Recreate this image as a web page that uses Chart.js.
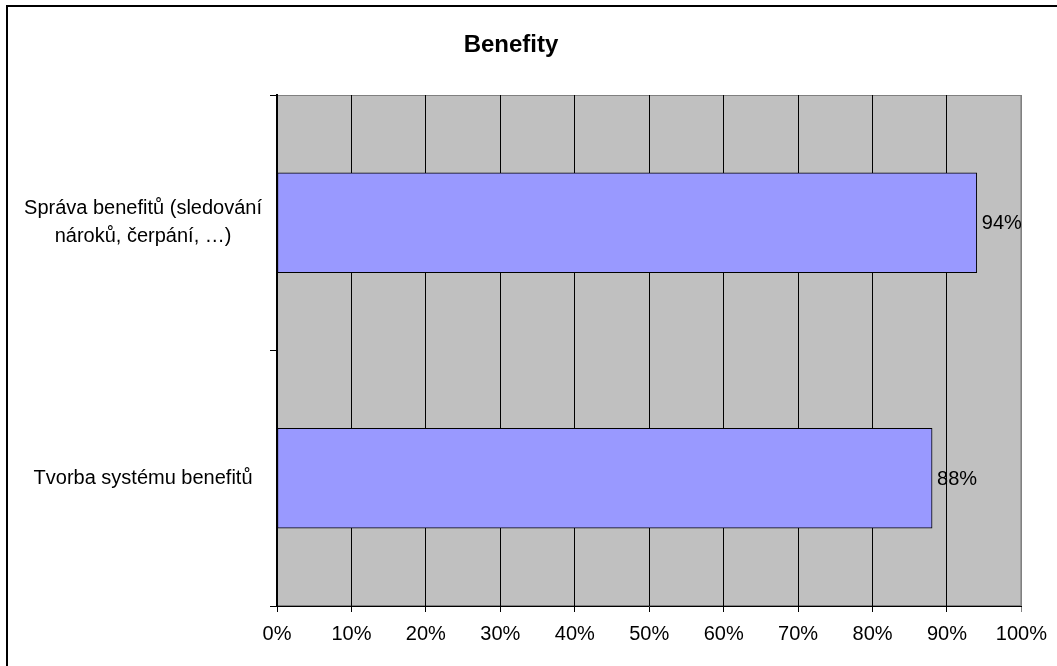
<!DOCTYPE html>
<html lang="cs">

<head>
    <meta charset="UTF-8">
    <title>Benefity</title>
    <script src="https://cdn.jsdelivr.net/npm/chart.js@4.4.1/dist/chart.umd.min.js"></script>
    <style>
        body {
            margin: 0;
            background: #fff;
            overflow: hidden;
        }

        #frame {
            position: absolute;
            left: 6px;
            top: 5px;
            width: 1200px;
            height: 800px;
            border-left: 2px solid #000;
            border-top: 2px solid #000;
        }

        #chartBox {
            position: absolute;
            left: 0;
            top: 0;
        }
    </style>
</head>

<body>
    <div id="frame"></div>
    <div id="chartBox">
        <canvas id="benefitChart" width="1057" height="666"></canvas>
    </div>

    <script>
        // data
        const categories = [
            ['Správa benefitů (sledování', 'nároků, čerpání, …)'],
            'Tvorba systému benefitů'
        ];
        const values = [94, 88];
        const valueLabels = ['94%', '88%'];
        const tickValues = [0, 10, 20, 30, 40, 50, 60, 70, 80, 90, 100];

        const fontFamily = '"Liberation Sans", Arial, sans-serif';

        // gray plot background + frame
        const plotBackground = {
            id: 'plotBackground',
            beforeDraw(chart) {
                const { ctx, chartArea: a } = chart;
                ctx.save();
                ctx.fillStyle = '#c0c0c0';
                ctx.fillRect(a.left, a.top, a.right - a.left, a.bottom - a.top);
                ctx.strokeStyle = '#808080';
                ctx.lineWidth = 1;
                ctx.strokeRect(a.left + 0.5, a.top + 0.5, a.right - a.left - 1, a.bottom - a.top - 1);
                ctx.restore();
            }
        };

        // percentage labels right of the bars
        const barValueLabels = {
            id: 'barValueLabels',
            afterDatasetsDraw(chart) {
                const { ctx } = chart;
                const meta = chart.getDatasetMeta(0);
                ctx.save();
                ctx.font = '20px ' + fontFamily;
                ctx.fillStyle = '#000';
                ctx.textAlign = 'left';
                ctx.textBaseline = 'middle';
                meta.data.forEach((bar, i) => {
                    ctx.fillText(valueLabels[i], bar.x + 5, bar.y + 1);
                });
                ctx.restore();
            }
        };

        new Chart(document.getElementById('benefitChart'), {
            type: 'bar',
            data: {
                labels: categories,
                datasets: [{
                    data: values,
                    backgroundColor: '#9999ff',
                    borderColor: '#000',
                    borderWidth: 1,
                    borderSkipped: false,
                    barThickness: 100
                }]
            },
            options: {
                indexAxis: 'y',
                responsive: false,
                animation: false,
                layout: {
                    padding: { left: 0, right: 35, top: 0, bottom: 0 }
                },
                plugins: {
                    legend: { display: false },
                    tooltip: { enabled: false },
                    title: {
                        display: true,
                        text: 'Benefity',
                        color: '#000',
                        font: { family: fontFamily, size: 24, weight: 'bold', lineHeight: 1.2 },
                        padding: { top: 31, bottom: 35.2 }
                    }
                },
                scales: {
                    x: {
                        min: 0,
                        max: 100,
                        afterBuildTicks(axis) {
                            axis.ticks = tickValues.map(v => ({ value: v }));
                        },
                        afterFit(axis) {
                            axis.height = 60;
                        },
                        border: { display: true, color: '#000', width: 1 },
                        grid: {
                            color: ctx => ctx.index === tickValues.length - 1 ? '#808080' : '#000',
                            lineWidth: 1,
                            tickLength: 6,
                            drawTicks: true
                        },
                        ticks: {
                            color: '#000',
                            padding: 10,
                            font: { family: fontFamily, size: 20 },
                            callback: v => v + '%'
                        }
                    },
                    y: {
                        afterFit(axis) {
                            axis.width = 277;
                        },
                        border: { display: true, color: '#000', width: 2 },
                        grid: {
                            offset: true,
                            drawOnChartArea: false,
                            color: '#000',
                            tickLength: 7
                        },
                        ticks: {
                            color: '#000',
                            crossAlign: 'center',
                            padding: 8,
                            font: { family: fontFamily, size: 20, lineHeight: 1.4 }
                        }
                    }
                }
            },
            plugins: [plotBackground, barValueLabels]
        });
    </script>
</body>

</html>
